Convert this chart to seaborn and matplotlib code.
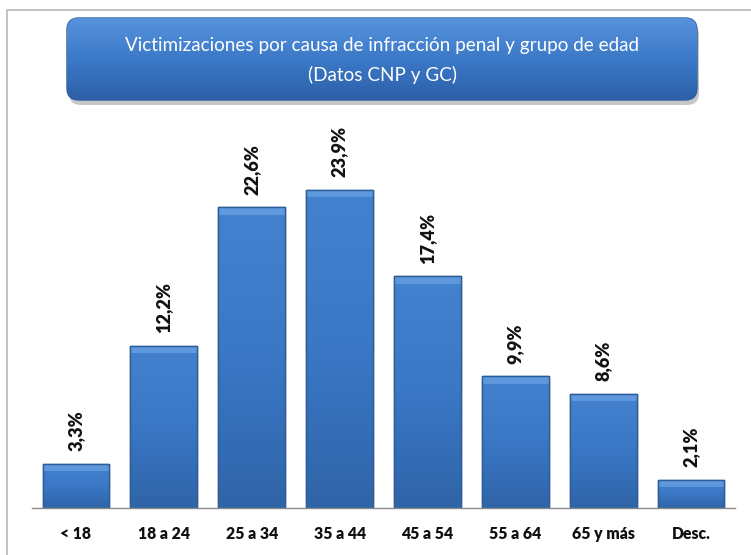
import matplotlib.pyplot as plt
import numpy as np
import pandas as pd
import seaborn as sns
from matplotlib.colors import LinearSegmentedColormap
from matplotlib.patches import FancyBboxPatch

# Datos
grupos = ["< 18", "18 a 24", "25 a 34", "35 a 44", "45 a 54", "55 a 64", "65 y más", "Desc."]
porcentajes = [3.3, 12.2, 22.6, 23.9, 17.4, 9.9, 8.6, 2.1]
etiquetas = ["3,3%", "12,2%", "22,6%", "23,9%", "17,4%", "9,9%", "8,6%", "2,1%"]
titulo = "Victimizaciones por causa de infracción penal y grupo de edad\n(Datos CNP y GC)"

df = pd.DataFrame({"grupo": grupos, "pct": porcentajes})

sns.set_style("white")
plt.rcParams["font.family"] = ["Lato", "DejaVu Sans"]

W, H = 751, 555
fig = plt.figure(figsize=(W / 100, H / 100), dpi=100)
renderer = fig.canvas.get_renderer()


def ajustar(txt, objetivo, eje="w"):
    # escala el tamaño de letra para que el texto mida 'objetivo' px
    for _ in range(3):
        bb = txt.get_window_extent(renderer=renderer)
        medida = bb.width if eje == "w" else bb.height
        txt.set_fontsize(txt.get_fontsize() * objetivo / medida)
    return txt.get_fontsize()


# ============================================================
# barras
# ============================================================
ax = fig.add_axes([32 / W, 47 / H, (735 - 32) / W, 399.2 / H])
sns.barplot(data=df, x="grupo", y="pct", color="#3C78C6", width=0.76,
            edgecolor="#2C5C98", linewidth=1.0, saturation=1, ax=ax)
ax.set_ylim(0, 30)
ax.set_xlim(-0.5, len(grupos) - 0.5)

grad_cmap = LinearSegmentedColormap.from_list("barra", ["#3064A8", "#3A77C5", "#4482D0"])
grad = np.linspace(0, 1, 256).reshape(-1, 1)
for p in ax.patches:
    x0, y0 = p.get_x(), p.get_y()
    w, h = p.get_width(), p.get_height()
    im = ax.imshow(grad, cmap=grad_cmap, aspect="auto", origin="lower",
                   extent=[x0, x0 + w, y0, y0 + h], zorder=p.get_zorder() + 0.1)
    im.set_clip_path(p)
    # bisel superior
    bevel = min(0.55, h * 0.25)
    ax.fill_between([x0, x0 + w], y0 + h - bevel, y0 + h, color="#74A8E8",
                    alpha=0.6, zorder=p.get_zorder() + 0.2, linewidth=0)
    ax.add_patch(plt.Rectangle((x0, y0), w, h, fill=False, edgecolor="#2C5C98",
                               linewidth=1.0, zorder=p.get_zorder() + 0.3))

textos = []
for i, (v, lab) in enumerate(zip(porcentajes, etiquetas)):
    t = ax.text(i, v + 0.95, lab, rotation=90, ha="center", va="bottom",
                fontsize=12, fontweight="heavy", color="#111111")
    textos.append(t)
tam = ajustar(textos[3], 51, eje="h")
for t in textos:
    t.set_fontsize(tam)

ax.set_xlabel("")
ax.set_ylabel("")
ax.set_yticks([])
for s in ["top", "right", "left"]:
    ax.spines[s].set_visible(False)
ax.spines["bottom"].set_color("#8A8A8A")
ax.spines["bottom"].set_linewidth(1.0)
ax.set_xticks(range(len(grupos)))
ax.set_xticklabels(grupos, fontsize=13, fontweight="heavy")
ax.tick_params(axis="x", which="major", length=0, pad=13)
ax.set_xticks(np.arange(-0.5, len(grupos), 1), minor=True)
ax.tick_params(axis="x", which="minor", length=5, color="#8A8A8A", width=1)
etq = ax.get_xticklabels()
tam_x = ajustar(etq[1], 52)
for t in etq:
    t.set_fontsize(tam_x)
    t.set_color("#111111")

# ============================================================
# marco y titulo
# ============================================================
ov = fig.add_axes([0, 0, 1, 1], zorder=-1)
ov.set_xlim(0, W)
ov.set_ylim(H, 0)
ov.axis("off")
ov.plot([7, 7, W], [H, 10, 10], color="#B8B8B8", linewidth=1.2)

top = fig.add_axes([0, 0, 1, 1])
top.set_xlim(0, W)
top.set_ylim(H, 0)
top.axis("off")
top.patch.set_alpha(0)

sombra = FancyBboxPatch((69, 23), 630, 82, boxstyle="round,pad=0,rounding_size=12",
                        facecolor="#000000", alpha=0.22, linewidth=0)
top.add_patch(sombra)
caja = FancyBboxPatch((67, 18), 630, 82, boxstyle="round,pad=0,rounding_size=12",
                      facecolor="#3A78C8", edgecolor="#2A5A9A", linewidth=1.0)
top.add_patch(caja)
box_cmap = LinearSegmentedColormap.from_list("caja", ["#2D60A8", "#3B79C8", "#5893DC"])
gbox = top.imshow(np.linspace(0, 1, 256).reshape(-1, 1), cmap=box_cmap, aspect="auto",
                  origin="lower", extent=[67, 697, 100, 18], zorder=caja.get_zorder() + 0.1)
gbox.set_clip_path(caja)
top.set_xlim(0, W)
top.set_ylim(H, 0)
linea1, linea2 = titulo.split("\n")
t1 = top.text(382, 45, linea1, ha="center", va="center", color="white", fontsize=13)
tam_t = ajustar(t1, 515)
top.text(382, 75, linea2, ha="center", va="center", color="white", fontsize=tam_t)

fig.savefig("out.png", dpi=100)
